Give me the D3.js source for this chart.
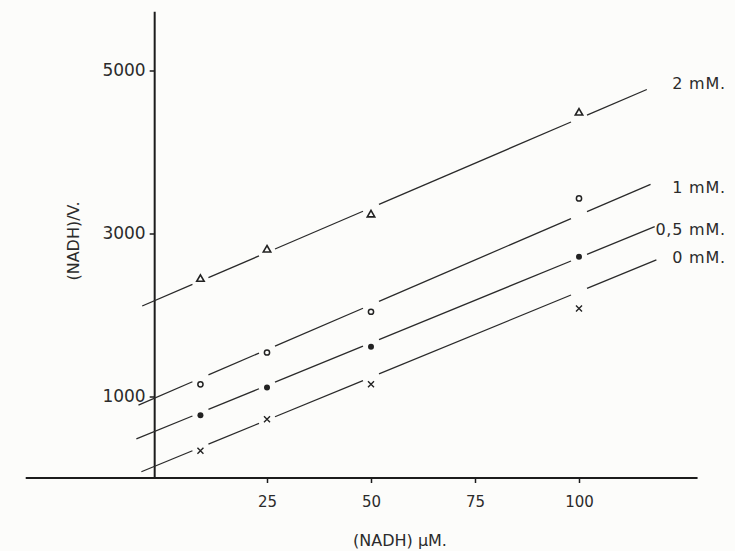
<!DOCTYPE html>
<html>
<head>
<meta charset="utf-8">
<script src="https://cdn.jsdelivr.net/npm/d3@7"></script>
<style>
  body { margin: 0; background: #fcfcfa; }
  svg { display: block; }
  text { font-family: "DejaVu Sans", sans-serif; fill: #2b2b2b; }
</style>
</head>
<body>
<svg id="chart" width="735" height="551"></svg>
<script>
// NADH concentrations (uM) where points were measured
var nadh = [9, 25, 50, 100]

// (NADH)/V, one array per inhibitor concentration
var series_2mM  = [2440, 2800, 3230, 4480]
var series_1mM  = [1150, 1540, 2040, 3430]
var series_05mM = [770, 1110, 1610, 2715]
var series_0mM  = [335, 720, 1150, 2080]

var seriesNames = ["2 mM.", "1 mM.", "0,5 mM.", "0 mM."]
var markers = ["triangle", "open", "filled", "cross"]

// fitted straight lines: intercept, slope and x-range (data units)
var lineIntercept = [2220, 1025, 613, 186]
var lineSlope = [21.9, 22.0, 20.9, 21.0]
var lineFrom = [-5.0, -5.9, -6.4, -5.2]
var lineTo = [116.3, 117.2, 118.2, 118.6]

var xTicks = [25, 50, 75, 100]
var yTicks = [1000, 3000, 5000]

var allSeries = [series_2mM, series_1mM, series_05mM, series_0mM]

var svg = d3.select("#chart")
var x = d3.scaleLinear().domain([0, 100]).range([163, 579])
var y = d3.scaleLinear().domain([0, 5000]).range([478, 70.5])

var yAxisAt = -2      // the vertical axis sits a little left of zero
var xAxisStart = -33, xAxisEnd = 128.5
var yAxisTop = 5720

// axis lines
svg.append("line")
    .attr("x1", x(xAxisStart)).attr("x2", x(xAxisEnd))
    .attr("y1", y(0)).attr("y2", y(0))
    .style("stroke", "#1c1c1c").style("stroke-width", "2px")
svg.append("line")
    .attr("x1", x(yAxisAt)).attr("x2", x(yAxisAt))
    .attr("y1", y(0)).attr("y2", y(yAxisTop))
    .style("stroke", "#1c1c1c").style("stroke-width", "2px")

// ticks
var gx = svg.append("g")
    .attr("transform", "translate(0," + y(0) + ")")
    .call(d3.axisBottom(x).tickValues(xTicks).tickSize(5).tickPadding(13))
var gy = svg.append("g")
    .attr("transform", "translate(" + x(yAxisAt) + ",0)")
    .call(d3.axisLeft(y).tickValues(yTicks).tickFormat(d3.format("d")).tickSize(5).tickPadding(4))
gx.select(".domain").remove()
gy.select(".domain").remove()
gx.selectAll("line").style("stroke", "#1c1c1c").style("stroke-width", "1.5px")
gy.selectAll("line").style("stroke", "#1c1c1c").style("stroke-width", "1.5px")
gx.selectAll("text").style("font-size", "15px").style("fill", "#2b2b2b")
gy.selectAll("text").style("font-size", "17px").style("fill", "#2b2b2b")

// axis titles
svg.append("text")
    .attr("x", 400).attr("y", 546)
    .attr("text-anchor", "middle")
    .style("font-size", "16px")
    .text("(NADH) µM.")
svg.append("text")
    .attr("transform", "translate(79,241) rotate(-90)")
    .attr("text-anchor", "middle")
    .style("font-size", "16px")
    .text("(NADH)/V.")

// fitted lines, broken around each measured point
var halfGap = 8
allSeries.forEach(function(vals, i) {
    let px0 = x(lineFrom[i]), px1 = x(lineTo[i])
    let breaks = nadh.map(function(d) { return x(d) })
    let pieces = []
    let start = px0
    breaks.forEach(function(b) {
        if (b - halfGap > start) pieces.push([start, b - halfGap])
        start = b + halfGap
    })
    if (start < px1) pieces.push([start, px1])
    pieces.forEach(function(p) {
        let a = x.invert(p[0]), b = x.invert(p[1])
        svg.append("line")
            .attr("x1", p[0]).attr("y1", y(lineIntercept[i] + lineSlope[i] * a))
            .attr("x2", p[1]).attr("y2", y(lineIntercept[i] + lineSlope[i] * b))
            .style("stroke", "#2a2a2a").style("stroke-width", "1.3px")
    })
})

// markers
allSeries.forEach(function(vals, i) {
    let g = svg.append("g")
    vals.forEach(function(v, j) {
        let cx = x(nadh[j]), cy = y(v)
        if (markers[i] === "triangle") {
            g.append("path")
                .attr("d", d3.symbol(d3.symbolTriangle, 24)())
                .attr("transform", "translate(" + cx + "," + cy + ")")
                .style("fill", "none").style("stroke", "#222").style("stroke-width", "1.6px")
        } else if (markers[i] === "open") {
            g.append("circle").attr("cx", cx).attr("cy", cy).attr("r", 2.6)
                .style("fill", "none").style("stroke", "#222").style("stroke-width", "1.5px")
        } else if (markers[i] === "filled") {
            g.append("circle").attr("cx", cx).attr("cy", cy).attr("r", 3)
                .style("fill", "#222")
        } else {
            g.append("path")
                .attr("d", "M-3,-3L3,3M-3,3L3,-3")
                .attr("transform", "translate(" + cx + "," + cy + ")")
                .style("fill", "none").style("stroke", "#222").style("stroke-width", "1.4px")
        }
    })
})

// series labels at the right end of each line
var labelNudge = [-6, 3, 3, -2]
seriesNames.forEach(function(name, i) {
    let endY = y(lineIntercept[i] + lineSlope[i] * lineTo[i])
    svg.append("text")
        .attr("x", 726).attr("y", endY + labelNudge[i])
        .attr("dy", "0.35em")
        .attr("text-anchor", "end")
        .style("font-size", "16px")
        .style("letter-spacing", "0.8px")
        .text(name)
})
</script>
</body>
</html>
